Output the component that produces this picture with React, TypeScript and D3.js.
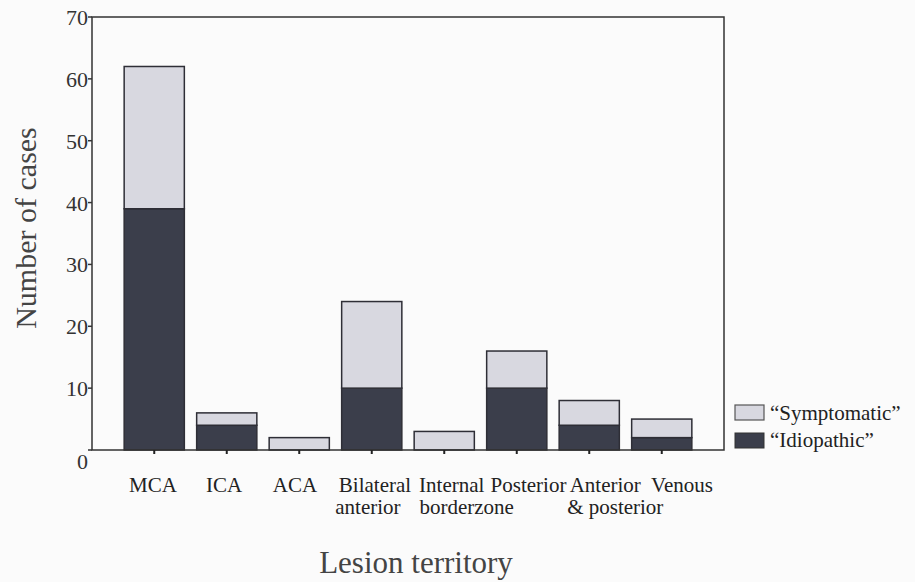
import React from "react";
import * as d3 from "d3";

const categories = ["MCA", "ICA", "ACA", "Bilateral anterior", "Internal borderzone", "Posterior", "Anterior & posterior", "Venous"];
const labelLines = [["MCA"], ["ICA"], ["ACA"], ["Bilateral", "anterior"], ["Internal", "borderzone"], ["Posterior"], ["Anterior", "& posterior"], ["Venous"]];
const idiopathic = [39, 4, 0, 10, 0, 10, 4, 2];
const symptomatic = [23, 2, 2, 14, 3, 6, 4, 3];
const yTicks = [0, 10, 20, 30, 40, 50, 60, 70];
const seriesNames = ["\u201CSymptomatic\u201D", "\u201CIdiopathic\u201D"];

const W = 915, H = 582;
const frame = { left: 92, right: 724, top: 17, bottom: 450 };
const colSym = "#d8d8e0";
const colIdio = "#3b3e4b";
const font = "Liberation Serif, Times New Roman, serif";
const labelFont = 21;

export default function App() {
  const x = d3.scaleBand<string>().domain(categories).range([118, 698]).paddingInner(0.17).paddingOuter(0.085);
  // category labels are set like a typed line of text under the axis
  const xLabel = d3.scaleLinear().domain([0, 2, 3, 7]).range([153, 295, 375, 682]);
  const y = d3.scaleLinear().domain([0, 70]).range([frame.bottom, frame.top]);
  const stacked = d3.stack<any>().keys(["idio", "sym"])(
    categories.map((c, i) => ({ cat: c, idio: idiopathic[i], sym: symptomatic[i] }))
  );
  const colors = [colIdio, colSym];
  const measure = (s: string) => {
    // approximate Times widths
    return s.length * labelFont * 0.42;
  };
  return (
    <svg width={W} height={H} style={{ position: "absolute", left: 0, top: 0, background: "#fbfbfb", fontFamily: font }}>
      <rect x={0} y={0} width={W} height={H} fill="#fbfbfb" />
      {stacked.map((s, si) =>
        s.map((d, i) => {
          const h = y(d[0]) - y(d[1]);
          if (h <= 0) return null;
          return (
            <rect key={si + "-" + i} x={x(categories[i])!} y={y(d[1])} width={x.bandwidth()} height={h}
              fill={colors[si]} stroke="#2e2e36" strokeWidth={1.5} />
          );
        })
      )}
      <rect x={frame.left} y={frame.top} width={frame.right - frame.left} height={frame.bottom - frame.top}
        fill="none" stroke="#333" strokeWidth={1.5} />
      {yTicks.map((t) => (
        <g key={t}>
          <line x1={frame.left - 4} x2={frame.left} y1={y(t)} y2={y(t)} stroke="#333" strokeWidth={1.5} />
          <text x={frame.left - 4} y={y(t) + (t === 0 ? 19 : 8)} textAnchor="end" fontSize={22} fill="#333">{t}</text>
        </g>
      ))}
      {categories.map((c, i) => {
        const cx = x(c)! + x.bandwidth() / 2;
        const lx = xLabel(i);
        const lines = labelLines[i];
        return (
          <g key={c}>
            <line x1={cx} x2={cx} y1={frame.bottom} y2={frame.bottom + 4} stroke="#222" strokeWidth={2} />
            <text x={lx} y={492} textAnchor="middle" fontSize={labelFont} fill="#222">{lines[0]}</text>
            {lines.length > 1 && (
              i === 6 ? (
                <text x={lx + 10} y={514} textAnchor="middle" fontSize={labelFont} fill="#222">{lines[1]}</text>
              ) : (
                <text x={lx - measure(lines[0]) / 2 + (i === 4 ? 3 : 0)} y={514} textAnchor="start" fontSize={labelFont} fill="#222">{lines[1]}</text>
              )
            )}
          </g>
        );
      })}
      <text transform="translate(36,228) rotate(-90)" textAnchor="middle" fontSize={30} fill="#444">Number of cases</text>
      <text x={416} y={573} textAnchor="middle" fontSize={31} fill="#444">Lesion territory</text>
      <rect x={735} y={405} width={29} height={15} fill={colSym} stroke="#555" strokeWidth={1.2} />
      <text x={770} y={420} fontSize={21} fill="#222">{seriesNames[0]}</text>
      <rect x={735} y={433} width={29} height={15} fill={colIdio} stroke="#333" strokeWidth={1} />
      <text x={770} y={447} fontSize={21} fill="#222">{seriesNames[1]}</text>
    </svg>
  );
}
